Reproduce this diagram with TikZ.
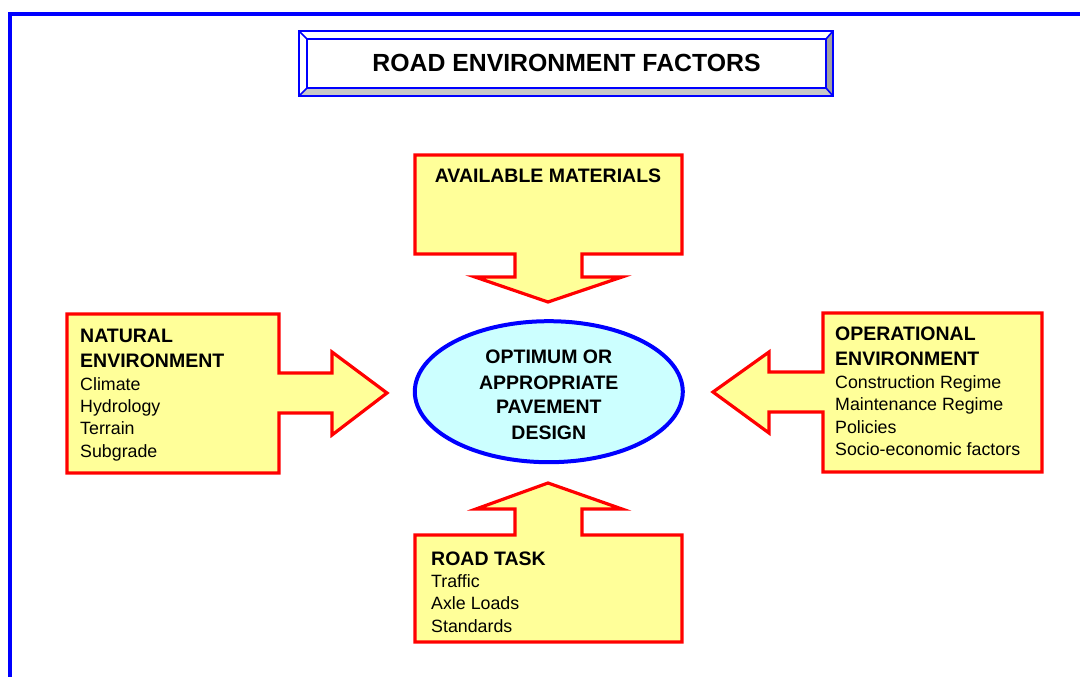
\documentclass[tikz,border=0pt]{standalone}
\usepackage{fontspec}
\setmainfont{Liberation Sans}
\usetikzlibrary{shapes.geometric}
\definecolor{boxyellow}{HTML}{FFFF99}
\definecolor{boxred}{HTML}{FF0000}
\definecolor{frameblue}{HTML}{0000FF}
\definecolor{ellcyan}{HTML}{CCFFFF}
\definecolor{bevlight}{HTML}{C8C8C8}
\definecolor{bevdark}{HTML}{A0A0A0}
\tikzset{
  arrowbox/.style={draw=boxred, fill=boxyellow, line width=3.2pt, line join=miter},
  hdr/.style={inner sep=0pt, font=\fontsize{19.5}{23}\selectfont\bfseries},
  txt/.style={inner sep=0pt, font=\fontsize{17.8}{22}\selectfont},
  titletxt/.style={inner sep=0pt, font=\fontsize{24.8}{28}\selectfont\bfseries},
  bevelline/.style={draw=frameblue, line width=1.6pt},
}
\begin{document}
\begin{tikzpicture}[x=1pt,y=-1pt]
\useasboundingbox (0,0) rectangle (1080,677);
% outer frame
\draw[frameblue, line width=4pt] (9.5,680) -- (9.5,14.3) -- (1085,14.3);

% title bevel box
\fill[white] (299,31) rectangle (833,96);
\fill[bevlight] (299,96) -- (307,88) -- (826,88) -- (833,96) -- cycle;
\fill[bevdark] (833,31) -- (826,39) -- (826,88) -- (833,96) -- cycle;
\draw[bevelline] (299,31) rectangle (833,96);
\draw[bevelline] (307,39) rectangle (826,88);
\draw[bevelline] (299,31) -- (307,39);
\draw[bevelline] (833,31) -- (826,39);
\draw[bevelline] (299,96) -- (307,88);
\draw[bevelline] (833,96) -- (826,88);
\node[titletxt, anchor=base] (title) at (566.5,72) {ROAD ENVIRONMENT FACTORS};

% available materials (arrow down)
\draw[arrowbox] (415,155) -- (682,155) -- (682,254) -- (582,254) -- (582,277) -- (622,277)
  -- (548,302) -- (475,277) -- (515,277) -- (515,254) -- (415,254) -- cycle;
\node[hdr, anchor=base] (avail) at (548,182) {AVAILABLE MATERIALS};

% natural environment (arrow right)
\draw[arrowbox] (67,314) -- (279,314) -- (279,373) -- (332,373) -- (332,352) -- (387,393)
  -- (332,435) -- (332,413) -- (279,413) -- (279,473) -- (67,473) -- cycle;
\node[hdr, anchor=base west] (nat1) at (80,342) {NATURAL};
\node[hdr, anchor=base west] (nat2) at (80,367) {ENVIRONMENT};
\node[txt, anchor=base west] (nat3) at (80,390) {Climate};
\node[txt, anchor=base west] (nat4) at (80,412) {Hydrology};
\node[txt, anchor=base west] (nat5) at (80,434.5) {Terrain};
\node[txt, anchor=base west] (nat6) at (80,457) {Subgrade};

% operational environment (arrow left)
\draw[arrowbox] (823,313) -- (1042,313) -- (1042,472) -- (823,472) -- (823,412) -- (769,412)
  -- (769,433) -- (713,392) -- (769,352) -- (769,372) -- (823,372) -- cycle;
\node[hdr, anchor=base west] (op1) at (835,340) {OPERATIONAL};
\node[hdr, anchor=base west] (op2) at (835,365) {ENVIRONMENT};
\node[txt, anchor=base west] (op3) at (835,388) {Construction Regime};
\node[txt, anchor=base west] (op4) at (835,410.5) {Maintenance Regime};
\node[txt, anchor=base west] (op5) at (835,433) {Policies};
\node[txt, anchor=base west] (op6) at (835,455.5) {Socio-economic factors};

% road task (arrow up)
\draw[arrowbox] (415,535) -- (515,535) -- (515,509) -- (476,509) -- (548,483) -- (622,509)
  -- (582,509) -- (582,535) -- (682,535) -- (682,642) -- (415,642) -- cycle;
\node[hdr, anchor=base west] (rt1) at (431,565) {ROAD TASK};
\node[txt, anchor=base west] (rt2) at (431,587.5) {Traffic};
\node[txt, anchor=base west] (rt3) at (431,609.5) {Axle Loads};
\node[txt, anchor=base west] (rt4) at (431,632) {Standards};

% central ellipse
\node[ellipse, draw=frameblue, fill=ellcyan, line width=4pt, minimum width=268pt,
  minimum height=141pt, inner sep=0pt] (core) at (548.8,391.7) {};
\node[hdr, anchor=base] (c1) at (548.8,363.3) {OPTIMUM OR};
\node[hdr, anchor=base] (c2) at (548.8,389) {APPROPRIATE};
\node[hdr, anchor=base] (c3) at (548.8,413.5) {PAVEMENT};
\node[hdr, anchor=base] (c4) at (548.8,439.3) {DESIGN};
\end{tikzpicture}
\end{document}
